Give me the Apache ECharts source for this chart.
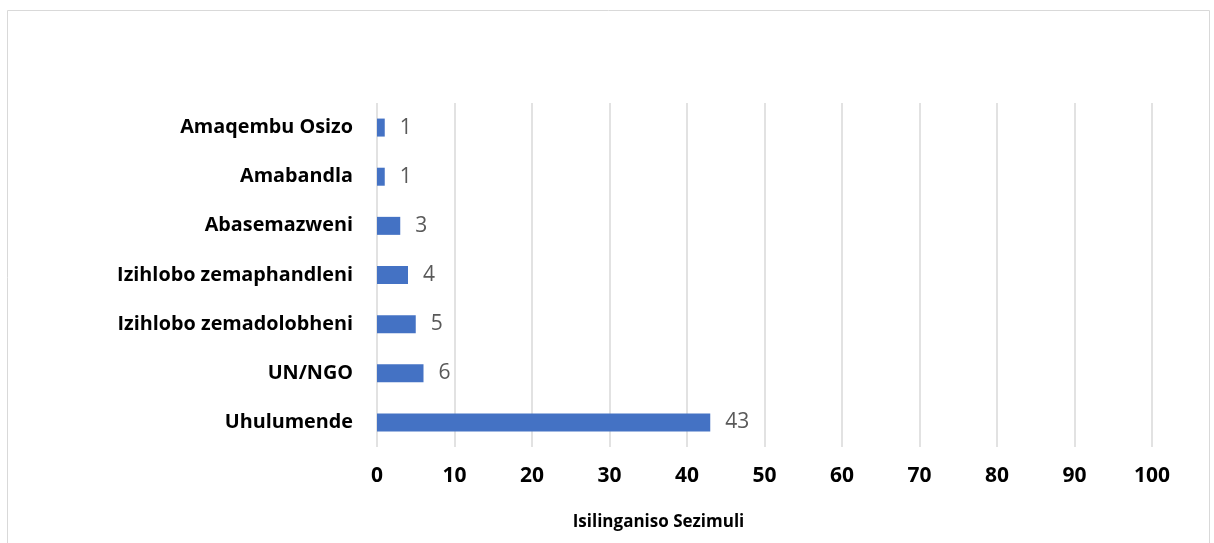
<!DOCTYPE html>
<html>
<head>
<meta charset="utf-8">
<script src="https://cdn.jsdelivr.net/npm/echarts@6/dist/echarts.min.js"></script>
<style>
    html, body { margin: 0; padding: 0; background: #fff; }
    #bar { width: 1214px; height: 543px; }
</style>
</head>
<body>
<div id="bar"></div>
<script>
    // categories from bottom to top
    const categories = ['Uhulumende', 'UN/NGO', 'Izihlobo zemadolobheni', 'Izihlobo zemaphandleni', 'Abasemazweni', 'Amabandla', 'Amaqembu Osizo']
    const counts = [43, 6, 5, 4, 3, 1, 1]
    const xTicks = [0, 100, 10]   // min, max, interval
    const axisTitle = 'Isilinganiso Sezimuli'

    let myChart = echarts.init(document.getElementById('bar'))

    let option = {
        animation: false,
        textStyle: { fontFamily: '"Open Sans", sans-serif' },
        graphic: [
            {
                type: 'rect',
                shape: { x: 7.5, y: 10.5, width: 1202, height: 600 },
                style: { fill: 'none', stroke: '#d9d9d9', lineWidth: 1 },
                silent: true
            }
        ],
        grid: {
            left: 377,
            right: 1214 - 1152,
            top: 103,
            bottom: 543 - 447
        },
        xAxis: {
            type: 'value',
            min: xTicks[0],
            max: xTicks[1],
            interval: xTicks[2],
            name: axisTitle,
            nameLocation: 'middle',
            nameGap: 67,
            nameTextStyle: { fontSize: 17, fontWeight: 'bold', color: '#000', padding: [0, 212, 0, 0] },
            axisLine: { show: false },
            axisTick: { show: false },
            axisLabel: { fontSize: 21, fontWeight: 'bold', color: '#000', margin: 19 },
            splitLine: { lineStyle: { color: '#d9d9d9', width: 1.5 } }
        },
        yAxis: {
            type: 'category',
            data: categories,
            axisLine: { show: false },
            axisTick: { show: false },
            axisLabel: { fontSize: 19.8, fontWeight: 'bold', color: '#000', margin: 24 }
        },
        series: [
            {
                type: 'bar',
                data: counts,
                barWidth: 18,
                itemStyle: { color: '#4472C4' },
                label: {
                    show: true,
                    position: 'right',
                    distance: 15,
                    fontSize: 21,
                    color: '#595959'
                }
            }
        ]
    }

    myChart.setOption(option)
</script>
</body>
</html>
